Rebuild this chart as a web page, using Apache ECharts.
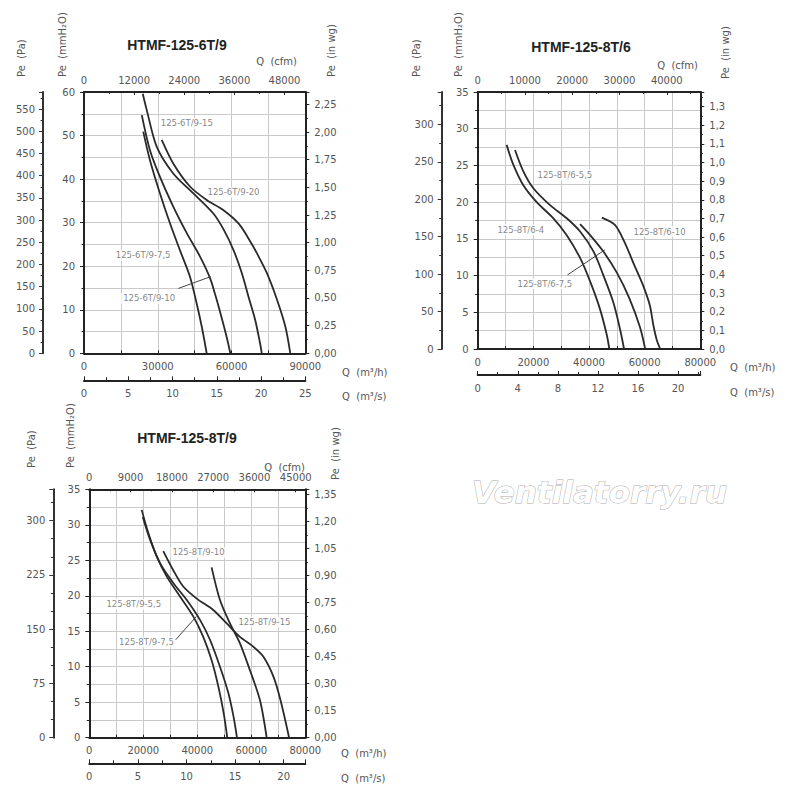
<!DOCTYPE html>
<html>
<head>
<meta charset="utf-8">
<script src="https://cdn.jsdelivr.net/npm/echarts@6/dist/echarts.min.js"></script>
<style>html,body{margin:0;padding:0;background:#fff}#c{width:800px;height:800px}</style>
</head>
<body>
<div id="c"></div>
<script>
// ================= DATA =================
const titles = ['HTMF-125-6T/9', 'HTMF-125-8T/6', 'HTMF-125-8T/9'];

// Chart A: HTMF-125-6T/9   [Q (m3/h), Pe (mmH2O)]
const a_7_5 = [[24100,50.9],[26800,44.4],[30900,36.7],[35000,29.8],[39000,23.7],[43100,17.6],[45800,11.5],[47900,6.1],[49900,0]];
const a_10  = [[23500,54.7],[26800,46.7],[30900,40.5],[36300,33.7],[41800,27.6],[47200,22.2],[51300,17.2],[53500,13.2],[55300,9.6],[58000,3.8],[59500,0]];
const a_15  = [[23900,59.6],[25500,55.9],[29600,47.4],[36300,41.3],[44500,36.7],[52600,32.1],[56700,28.5],[60800,23.7],[64200,18.4],[66900,13.0],[69600,7.7],[71600,2.3],[72300,0]];
const a_20  = [[31600,49.0],[36300,43.6],[43100,38.3],[49900,35.2],[56600,32.9],[63000,29.7],[67800,25.5],[70300,23.0],[74400,18.4],[78500,12.3],[81900,6.1],[83900,0]];
const aLabels  = [['125-6T/9-15',30200,52.8],['125-6T/9-20',49200,37.0],['125-6T/9-7,5',11900,22.6],['125-6T/9-10',14900,12.6]];
const aPointer = [[38400,14.9],[51500,17.6]];

// Chart B: HTMF-125-8T/6
const b_4   = [[10400,27.8],[12800,25.1],[16400,22.3],[21200,20.0],[27200,17.8],[32000,15.5],[36800,12.4],[40400,9.2],[43900,5.5],[46400,1.9],[47300,0]];
const b_5_5 = [[13400,27.1],[16400,24.2],[20000,21.9],[26000,19.6],[32000,17.8],[36800,16.0],[41600,13.3],[45100,10.1],[48700,6.4],[51100,2.8],[52600,0]];
const b_7_5 = [[36800,17.0],[40400,15.5],[45100,13.3],[50000,10.4],[54400,7.0],[58300,3.0],[60200,0]];
const b_10  = [[44600,17.9],[49300,16.9],[52600,14.7],[56200,11.5],[59500,8.6],[61900,5.9],[63100,3.3],[64300,1.3],[65600,0]];
const bLabels  = [['125-8T/6-5,5',20600,23.7],['125-8T/6-4',6200,16.2],['125-8T/6-10',55100,16.0],['125-8T/6-7,5',13400,8.9]];
const bPointer = [[32300,10.1],[45700,13.5]];

// Chart C: HTMF-125-8T/9
const c_5_5 = [[19400,32.1],[21900,28.8],[25000,25.5],[28700,22.7],[33600,19.9],[38500,17.1],[42200,14.2],[45300,10.9],[47800,7.2],[49800,3.4],[51100,0]];
const c_7_5 = [[19800,31.1],[22500,27.9],[26200,24.6],[31100,21.8],[36100,19.4],[41000,16.6],[44700,13.8],[48400,10.0],[51500,6.3],[53400,3.0],[54700,0]];
const c_10  = [[27400,26.3],[31100,23.6],[34800,21.3],[39800,19.6],[45900,18.0],[50900,16.1],[55800,14.2],[60800,12.8],[64500,11.4],[68200,8.6],[70800,5.3],[74000,0]];
const c_15  = [[45300,24.0],[48400,19.4],[52100,16.1],[55800,13.3],[59500,9.5],[63200,5.3],[65700,0]];
const cLabels  = [['125-8T/9-10',29900,26.1],['125-8T/9-5,5',5400,18.8],['125-8T/9-15',54300,16.3],['125-8T/9-7,5',10100,13.5]];
const cPointer = [[32000,13.8],[39700,17.1]];

// axis ranges / steps
const qMax    = [90000, 80000, 80000];
const qStep   = [30000, 20000, 20000];
const pMax    = [60, 35, 35];
const pStep   = [10, 5, 5];
const paStep  = [50, 50, 75];
const paMinor = [2, 2, 3];
const wgStep  = [0.25, 0.1, 0.15];
const wgDec   = [2, 1, 2];
const cfmStep = [12000, 10000, 9000];
const m3sStep = [5, 4, 5];

// unit conversions
const PA_PER_MM = 9.80665, MM_PER_INWG = 25.4, M3H_PER_CFM = 1.699011, M3H_PER_M3S = 3600;

// ================= LAYOUT / STYLE =================
const grids = [
  {left:84,    top:92,    width:221.3, height:261.3, paOffset:41, m3sOffset:27},
  {left:477.7, top:92,    width:222.6, height:257,   paOffset:36, m3sOffset:26},
  {left:89.3,  top:489.3, width:216,   height:248.4, paOffset:36, m3sOffset:25.6}
];
const curves   = [[a_7_5,a_10,a_15,a_20],[b_4,b_5_5,b_7_5,b_10],[c_5_5,c_7_5,c_10,c_15]];
const labels   = [aLabels,bLabels,cLabels];
const pointers = [aPointer,bPointer,cPointer];

const FONT = 'DejaVu Sans';
const LBL = {fontFamily:FONT, fontSize:10, color:'#555'};
const DARK = '#222';
const GRIDC = '#c9c9c9';

function isMult(v, step){ const r = v/step; return Math.abs(r - Math.round(r)) < 1e-6; }
function fmtInt(step){ return v => isMult(v, step) ? String(Math.round(v)) : ''; }
function fmtDec(step, dec){ return v => isMult(v, step) ? v.toFixed(dec).replace('.', ',') : ''; }

const xAxes = [], yAxes = [], series = [];
grids.forEach((g, i) => {
  // primary x: Q m3/h (bottom)
  xAxes.push({type:'value', gridIndex:i, position:'bottom', min:0, max:qMax[i], interval:qStep[i],
    axisLine:{show:true, onZero:false, lineStyle:{color:DARK, width:2}},
    axisTick:{show:true, inside:true, length:3, lineStyle:{color:DARK}},
    minorTick:{show:true, splitNumber:2, length:3, lineStyle:{color:DARK}},
    axisLabel:Object.assign({margin:8, formatter:fmtInt(qStep[i])}, LBL),
    splitLine:{show:true, lineStyle:{color:GRIDC, width:1}},
    minorSplitLine:{show:true, lineStyle:{color:GRIDC, width:1}}});
  // top: Q cfm
  xAxes.push({type:'value', gridIndex:i, position:'top', min:0, max:qMax[i]/M3H_PER_CFM, interval:cfmStep[i],
    axisLine:{show:true, onZero:false, lineStyle:{color:DARK, width:2}},
    axisTick:{show:true, inside:true, length:3, lineStyle:{color:DARK}},
    minorTick:{show:true, splitNumber:2, length:2, lineStyle:{color:DARK}},
    axisLabel:Object.assign({margin:7, formatter:fmtInt(cfmStep[i])}, LBL),
    splitLine:{show:false}});
  // bottom offset: Q m3/s
  xAxes.push({type:'value', gridIndex:i, position:'bottom', offset:g.m3sOffset, min:0, max:qMax[i]/M3H_PER_M3S, interval:m3sStep[i],
    axisLine:{show:true, onZero:false, lineStyle:{color:DARK, width:2}},
    axisTick:{show:true, inside:true, length:4, lineStyle:{color:DARK}},
    minorTick:{show:true, splitNumber:2, length:3, lineStyle:{color:DARK}},
    axisLabel:Object.assign({margin:8, formatter:fmtInt(m3sStep[i])}, LBL),
    splitLine:{show:false}});
  // primary y: Pe mmH2O
  yAxes.push({type:'value', gridIndex:i, position:'left', min:0, max:pMax[i], interval:pStep[i],
    axisLine:{show:true, onZero:false, lineStyle:{color:DARK, width:2}},
    axisTick:{show:true, length:4, lineStyle:{color:DARK}},
    minorTick:{show:true, splitNumber:2, length:2.5, lineStyle:{color:DARK}},
    axisLabel:Object.assign({margin:9, formatter:fmtInt(pStep[i])}, LBL),
    splitLine:{show:true, lineStyle:{color:GRIDC, width:1}},
    minorSplitLine:{show:true, lineStyle:{color:GRIDC, width:1}}});
  // left offset: Pe Pa
  yAxes.push({type:'value', gridIndex:i, position:'left', offset:g.paOffset, min:0, max:pMax[i]*PA_PER_MM, interval:paStep[i],
    axisLine:{show:true, onZero:false, lineStyle:{color:'#333', width:2}},
    axisTick:{show:true, length:4, lineStyle:{color:'#333'}},
    minorTick:{show:true, splitNumber:paMinor[i], length:2.5, lineStyle:{color:'#333'}},
    axisLabel:Object.assign({margin:8, formatter:fmtInt(paStep[i])}, LBL),
    splitLine:{show:false}});
  // right: Pe in wg
  yAxes.push({type:'value', gridIndex:i, position:'right', min:0, max:pMax[i]/MM_PER_INWG, interval:wgStep[i],
    axisLine:{show:true, onZero:false, lineStyle:{color:DARK, width:2}},
    axisTick:{show:true, length:4, lineStyle:{color:DARK}},
    minorTick:{show:true, splitNumber:2, length:2.5, lineStyle:{color:DARK}},
    axisLabel:Object.assign({margin:9, formatter:fmtDec(wgStep[i], wgDec[i])}, LBL),
    splitLine:{show:false}});

  const xi = 3*i, yi = 3*i;
  series.push({type:'scatter', xAxisIndex:xi, yAxisIndex:yi, z:1, silent:true, symbolSize:1,
    itemStyle:{color:'rgba(0,0,0,0)'},
    data: labels[i].map(l => ({name:l[0], value:[l[1], l[2]]})),
    label:{show:true, position:'right', distance:0, formatter:'{b}', fontFamily:FONT, fontSize:8.5,
      color:'#666', backgroundColor:'#fff', padding:[1,2]}});
  curves[i].forEach(c => series.push({type:'line', xAxisIndex:xi, yAxisIndex:yi, data:c, smooth:0.3,
    symbol:'none', silent:true, lineStyle:{color:'#2a2a2a', width:1.8}}));
  series.push({type:'line', xAxisIndex:xi, yAxisIndex:yi, data:pointers[i], symbol:'none', silent:true,
    lineStyle:{color:'#444', width:1}});
});

// text annotations (titles / axis names)
const nameStyle = {fontFamily:FONT, fontSize:10, fill:'#555'};
function vtext(t, x, y){ return {type:'text', x:x, y:y, rotation:Math.PI/2, silent:true,
  style:Object.assign({text:t, align:'left', verticalAlign:'middle', textAlign:'left', textVerticalAlign:'middle'}, nameStyle)}; }
function htext(t, x, y, al){ return {type:'text', x:x, y:y, silent:true,
  style:Object.assign({text:t, align:al, verticalAlign:'middle', textAlign:al, textVerticalAlign:'middle'}, nameStyle)}; }
function ttext(t, x, y){ return {type:'text', x:x, y:y, silent:true,
  style:{text:t, align:'center', verticalAlign:'middle', textAlign:'center', textVerticalAlign:'middle',
    fontFamily:'Liberation Sans', fontWeight:'bold', fontSize:14, fill:'#222'}}; }

const namePos = [
  {title:[177,45], pa:[21.7,77], mm:[62,77], wg:[331,77], cfm:[297,61], m3h:[342,372], m3s:[342,396]},
  {title:[581,47], pa:[416.7,77], mm:[458,77], wg:[725,79], cfm:[698,65], m3h:[730,367], m3s:[730,392]},
  {title:[187,438], pa:[31.7,468], mm:[70,468], wg:[335,480], cfm:[305,467], m3h:[341,753], m3s:[341,778]}
];
const graphics = [];
namePos.forEach((p, i) => {
  graphics.push(ttext(titles[i], p.title[0], p.title[1]));
  graphics.push(vtext('Pe  (Pa)', p.pa[0], p.pa[1]));
  graphics.push(vtext('Pe  (mmH\u2082O)', p.mm[0], p.mm[1]));
  graphics.push(vtext('Pe  (in wg)', p.wg[0], p.wg[1]));
  graphics.push(htext('Q  (cfm)', p.cfm[0], p.cfm[1], 'right'));
  graphics.push(htext('Q  (m\u00B3/h)', p.m3h[0], p.m3h[1], 'left'));
  graphics.push(htext('Q  (m\u00B3/s)', p.m3s[0], p.m3s[1], 'left'));
});
graphics.push({type:'text', x:472, y:492, silent:true,
  style:{text:'Ventilatorry.ru', align:'left', verticalAlign:'middle', textAlign:'left', textVerticalAlign:'middle',
    fontFamily:FONT, fontWeight:'bold', fontStyle:'italic', fontSize:31, fill:'#ffffff', stroke:'#adadad', lineWidth:1}});

const chart = echarts.init(document.getElementById('c'), null, {renderer:'svg'});
chart.setOption({
  animation:false,
  backgroundColor:'#fff',
  grid: grids.map(g => ({left:g.left, top:g.top, width:g.width, height:g.height, show:false, outerBoundsMode:'none', containLabel:false})),
  xAxis: xAxes,
  yAxis: yAxes,
  series: series,
  graphic: graphics
});
</script>
</body>
</html>
